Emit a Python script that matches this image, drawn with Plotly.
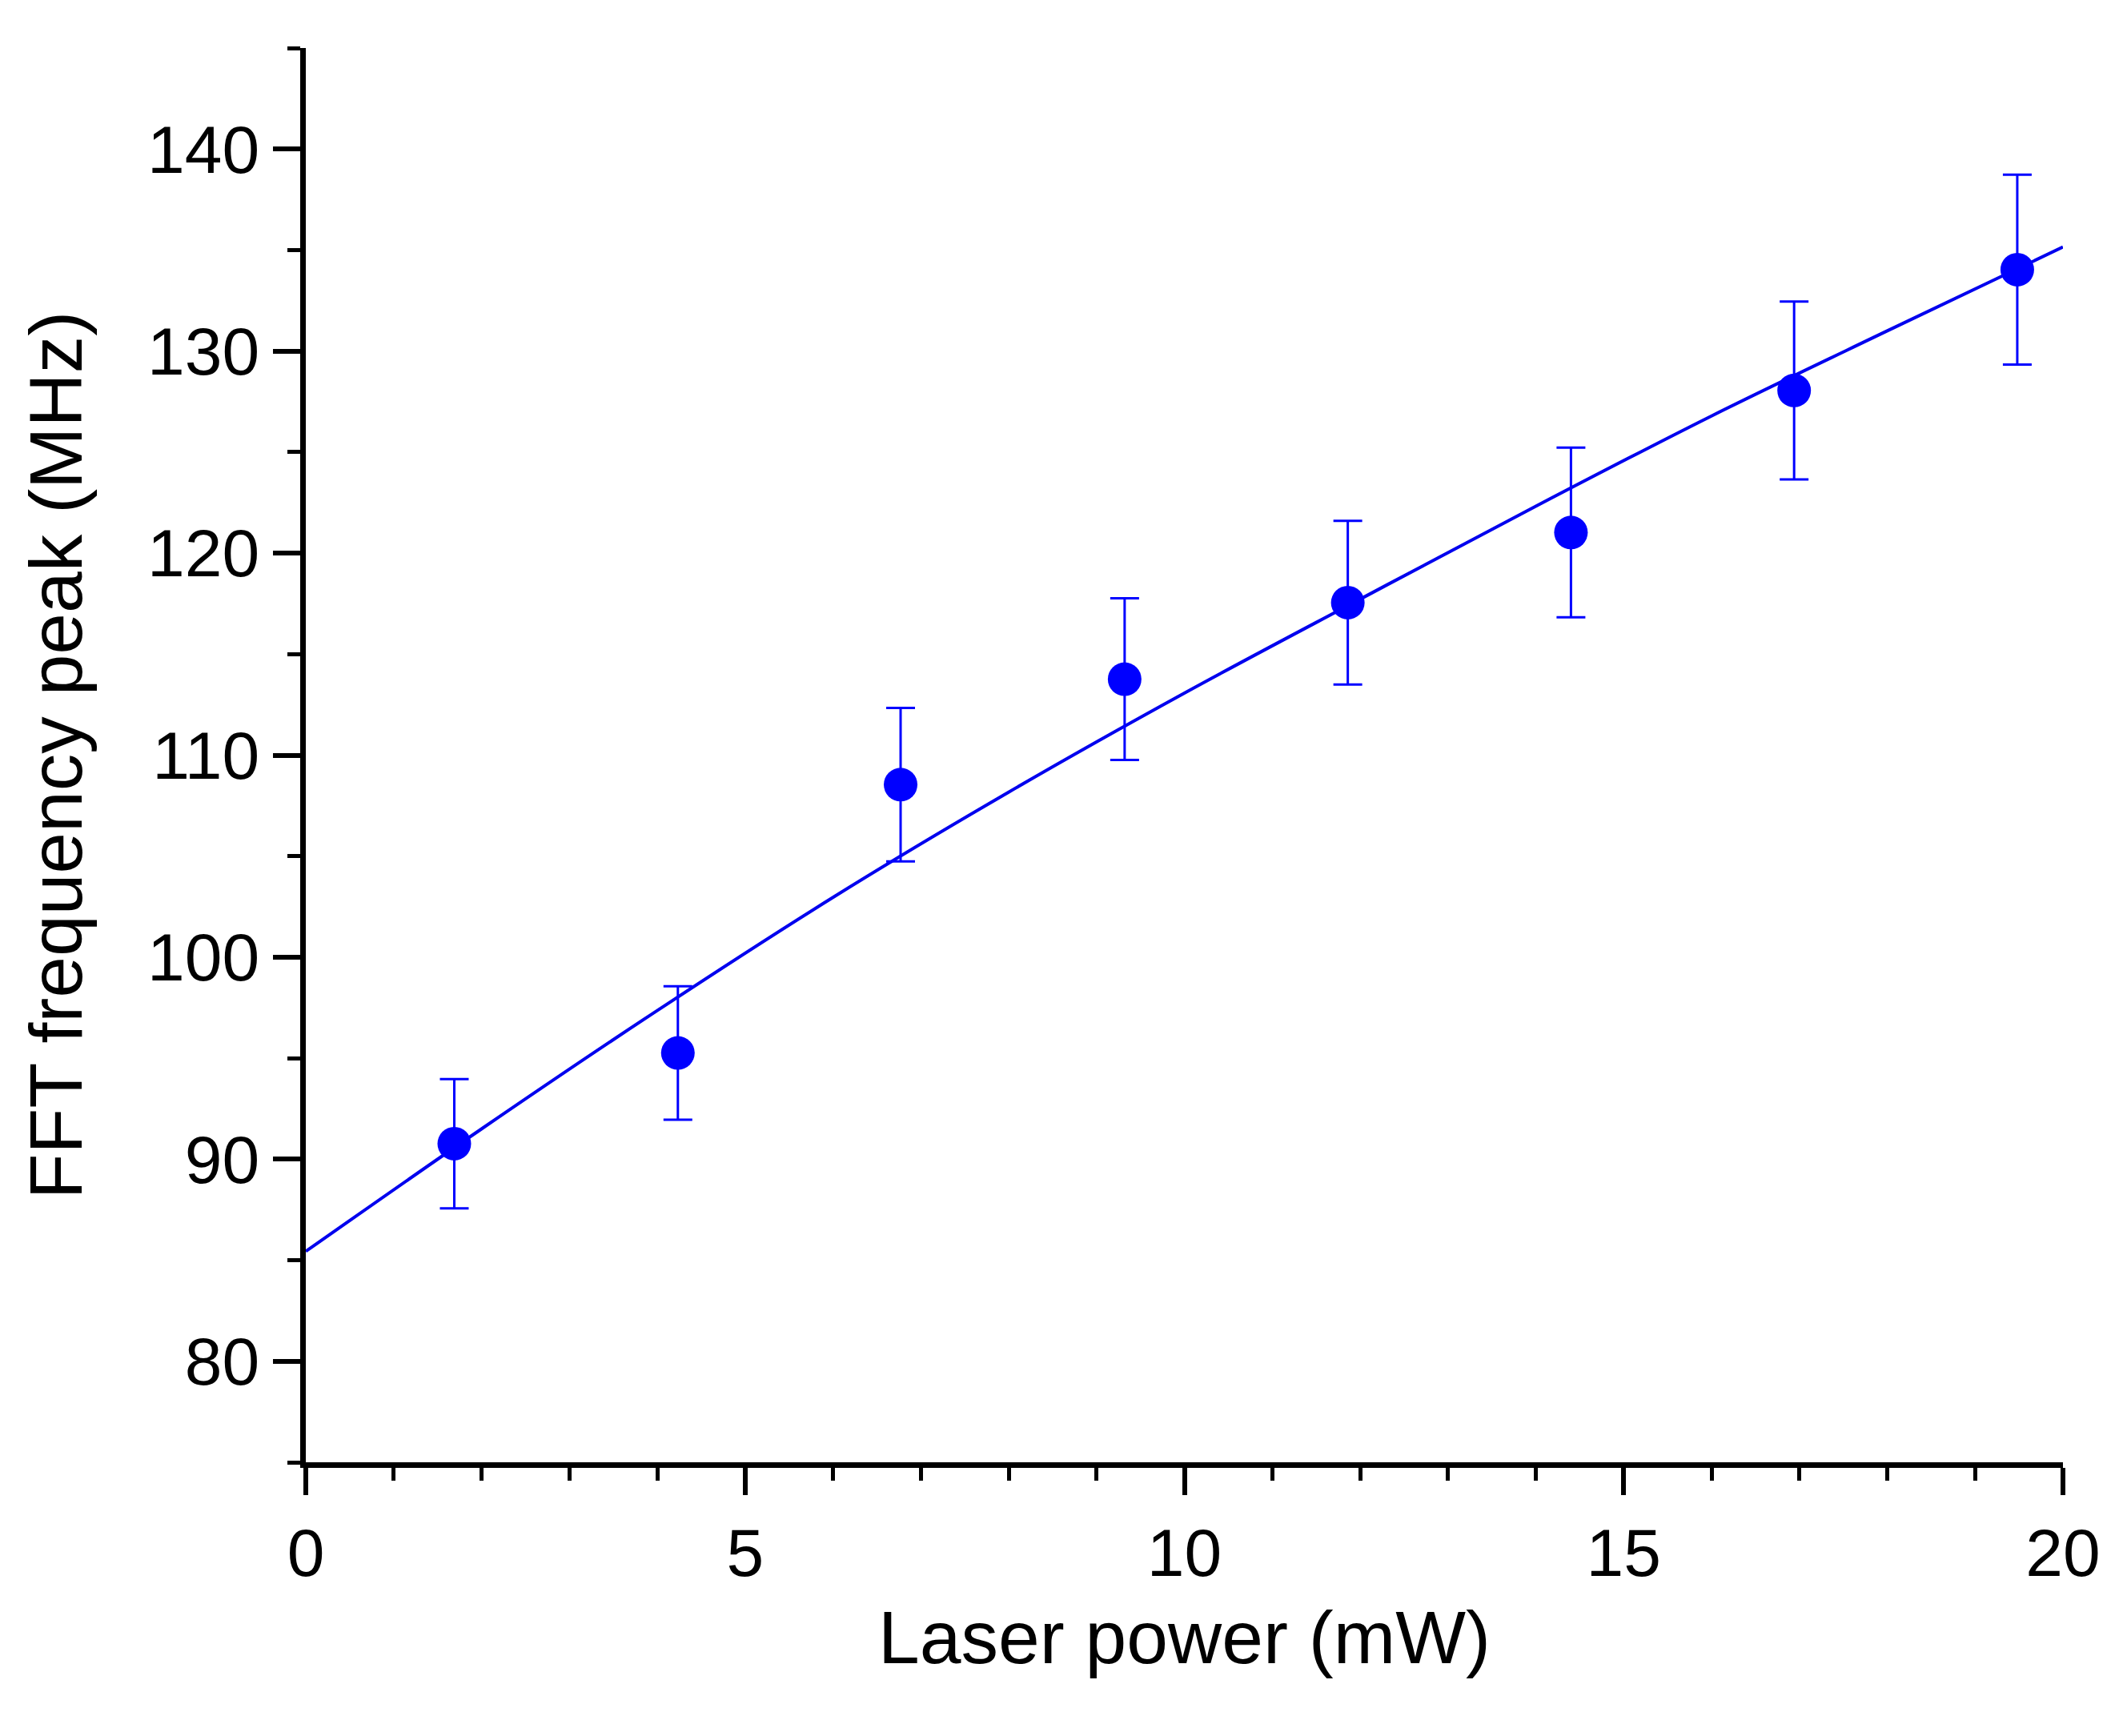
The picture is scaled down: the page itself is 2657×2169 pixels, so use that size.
import plotly.graph_objects as go

# measured points (laser power in mW, FFT peak in MHz, error in MHz)
power = [1.69, 4.235, 6.77, 9.32, 11.86, 14.40, 16.94, 19.48]
freq = [90.77, 95.26, 108.54, 113.76, 117.55, 121.02, 128.05, 134.03]
err = [3.2, 3.3, 3.8, 4.0, 4.05, 4.2, 4.4, 4.7]

# fit curve
fit_power = [0, 2, 4, 6, 8, 10, 12, 14, 16, 18, 20]
fit_freq = [85.44, 91.5, 97.36, 102.96, 108.17, 113.07, 117.72, 122.32, 126.79, 131.0, 135.15]

blue = "#0000FF"
font = "Liberation Sans, Arial, sans-serif"

fig = go.Figure()
fig.add_trace(go.Scatter(
    x=fit_power, y=fit_freq, mode="lines",
    line=dict(color="#0000EE", width=4, shape="spline"),
    showlegend=False,
))
fig.add_trace(go.Scatter(
    x=power, y=freq, mode="markers",
    marker=dict(color=blue, size=42),
    error_y=dict(type="data", array=err, color=blue, thickness=3, width=18),
    showlegend=False,
))

axis_common = dict(
    showline=True, linecolor="black", linewidth=7,
    ticks="outside", tickcolor="black", tickwidth=6, ticklen=34,
    showgrid=False, zeroline=False, mirror=False,
    tickfont=dict(family=font, size=84, color="black"),
)

fig.update_xaxes(
    range=[0, 20], tick0=0, dtick=5,
    title=dict(text="Laser power (mW)", font=dict(family=font, size=93, color="black"), standoff=30),
    minor=dict(dtick=1, ticks="outside", ticklen=16, tickwidth=5, tickcolor="black"),
    **axis_common,
)
fig.update_yaxes(
    range=[75, 145], tickvals=[80, 90, 100, 110, 120, 130, 140],
    title=dict(text="FFT frequency peak (MHz)", font=dict(family=font, size=93, color="black"), standoff=53),
    minor=dict(tick0=75, dtick=5, ticks="outside", ticklen=16, tickwidth=5, tickcolor="black"),
    **axis_common,
)

fig.update_layout(
    width=2657, height=2169,
    margin=dict(l=374, r=88, t=52, b=350),
    plot_bgcolor="white", paper_bgcolor="white",
)

fig.write_html("out.html")
